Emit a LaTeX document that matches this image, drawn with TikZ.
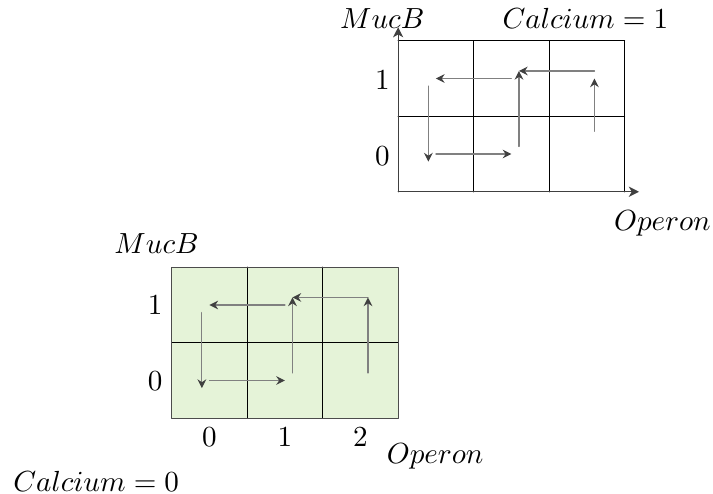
\documentclass[tikz,border=0pt]{standalone}
\usepackage{amsmath,amssymb}
\usepackage{tikz}
\usetikzlibrary{arrows.meta}
\definecolor{statefill}{RGB}{229,243,216}
\tikzset{
  flow/.style={-{Stealth[length=3pt,width=3pt,inset=1pt,color=black!75]}, draw=gray},
  axis/.style={-{Stealth[length=3.5pt,width=3.5pt,inset=1pt]}, draw=black!75}
}

\begin{document}
\begin{tikzpicture}[x=0.912cm, y=0.912cm, line join=round, line cap=round]
      \useasboundingbox (-2.274,-1.003) rectangle (7.17,5.54);
      % Calcium = 0
      \fill[statefill] (0,0) rectangle (3,2);
      \foreach \i in {1,2} \draw (\i,0) -- (\i,2);
      \draw (0,1) -- (3,1);
      \draw[black!70] (0,0) rectangle (3,2);
      \coordinate (A) at (1.5,1.5); \coordinate (B) at (0.5,1.5);
      \coordinate (C) at (0.4,1.4); \coordinate (D) at (0.4,0.4);
      \coordinate (E) at (0.5,0.5); \coordinate (F) at (1.5,0.5);
      \coordinate (G) at (1.6,0.6); \coordinate (H) at (1.6,1.6);
      \coordinate (I) at (2.6,1.6); \coordinate (J) at (2.6,0.6);
      \draw[flow] (A) -- (B);
      \draw[flow] (C) -- (D);
      \draw[flow] (E) -- (F);
      \draw[flow] (G) -- (H);
      \draw[flow] (I) -- (H);
      \draw[flow] (J) -- (I);
      \node (mucb0) at (-0.2,2.31) {$MucB$};
      \node (ytop0) at (-0.22,1.5) {$1$};
      \node (ybot0) at (-0.22,0.49) {$0$};
      \foreach \i in {0,1,2} \node (x\i) at (\i+0.5,-0.25) {$\i$};
      \node (operon0) at (3.49,-0.5) {$Operon$};
      \node (calc0) at (-1.0,-0.83) {$Calcium = 0$};
      % Calcium = 1
      \begin{scope}[shift={(3,3)}]
        \foreach \i in {1,2,3} \draw (\i,0) -- (\i,2);
        \foreach \j in {1,2} \draw (0,\j) -- (3,\j);
        \coordinate (O) at (0,0); \coordinate (Y) at (0,2.18);
        \coordinate (X) at (3.19,0);
        \draw[axis] (O) -- (Y);
        \draw[axis] (O) -- (X);
        \coordinate (K) at (1.5,1.5); \coordinate (L) at (0.5,1.5);
        \coordinate (M) at (0.4,1.4); \coordinate (N) at (0.4,0.4);
        \coordinate (P) at (0.5,0.5); \coordinate (Q) at (1.5,0.5);
        \coordinate (R) at (1.6,0.6); \coordinate (S) at (1.6,1.6);
        \coordinate (T) at (2.6,1.6); \coordinate (U) at (2.6,0.8);
        \coordinate (V) at (2.6,1.5);
        \draw[flow] (K) -- (L);
        \draw[flow] (M) -- (N);
        \draw[flow] (P) -- (Q);
        \draw[flow] (R) -- (S);
        \draw[flow] (T) -- (S);
        \draw[flow] (U) -- (V);
        \node (mucb1) at (-0.21,2.30) {$MucB$};
        \node (calc1) at (2.48,2.30) {$Calcium = 1$};
        \node (ytop1) at (-0.21,1.48) {$1$};
        \node (ybot1) at (-0.21,0.47) {$0$};
        \node (operon1) at (3.5,-0.42) {$Operon$};
      \end{scope}
    \end{tikzpicture}
\end{document}
